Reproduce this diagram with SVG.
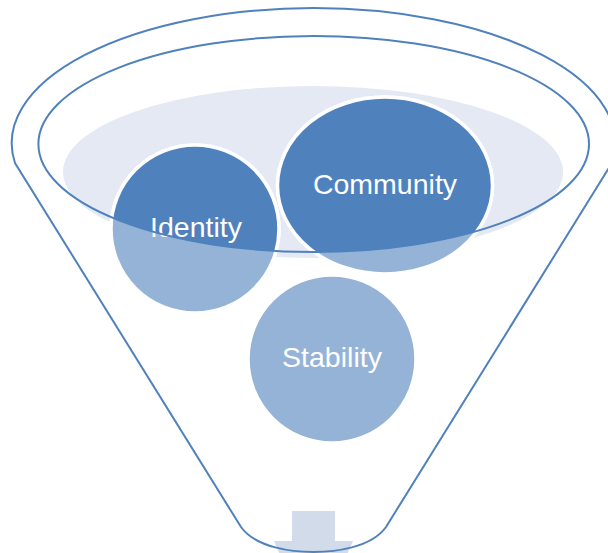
<svg xmlns="http://www.w3.org/2000/svg" width="608" height="553" viewBox="0 0 608 553">
  <style>
    .outline { fill: none; stroke: #4F81BD; stroke-width: 2; }
    .light { fill: #95B3D7; stroke: #FFFFFF; stroke-width: 3.5; }
    .dark { fill: #4F81BD; stroke: #FFFFFF; stroke-width: 3.5; }
    .label { font-family: "Liberation Sans", Arial, sans-serif; font-size: 28.5px; fill: #FFFFFF; text-anchor: middle; }
  </style>
  <defs>
    <clipPath id="mouth">
      <ellipse cx="313.7" cy="144" rx="275.3" ry="108"/>
    </clipPath>
  </defs>
  <rect width="608" height="553" fill="#FFFFFF"/>

  <g id="funnel-back">
    <ellipse cx="313" cy="172" rx="250" ry="86" fill="#E4E9F3"/>
    <polygon points="292,511 335,511 335,541 353,541 313.5,630 274,541 292,541" fill="#D1DBEA"/>
  </g>

  <g id="node-identity">
    <circle class="light" cx="195" cy="229" r="84"/>
    <circle class="dark" cx="195" cy="229" r="84" clip-path="url(#mouth)"/>
    <text class="label" x="196" y="237">Identity</text>
  </g>

  <g id="node-community">
    <ellipse class="light" cx="385" cy="185.5" rx="107.5" ry="88.5"/>
    <ellipse class="dark" cx="385" cy="185.5" rx="107.5" ry="88.5" clip-path="url(#mouth)"/>
    <text class="label" x="385" y="194">Community</text>
  </g>

  <g id="node-stability">
    <circle class="light" cx="332" cy="359" r="84"/>
    <text class="label" x="332" y="367">Stability</text>
  </g>

  <g id="funnel-outline">
    <ellipse class="outline" cx="313.7" cy="144" rx="275.3" ry="108"/>
    <path class="outline" d="M 15 163 A 301.8 135 0 1 1 612 163 L 386 527 C 371 548 334 552 313.5 552 C 293 552 256 548 241 527 Z"/>
  </g>

  <g id="connectors"/>
</svg>
